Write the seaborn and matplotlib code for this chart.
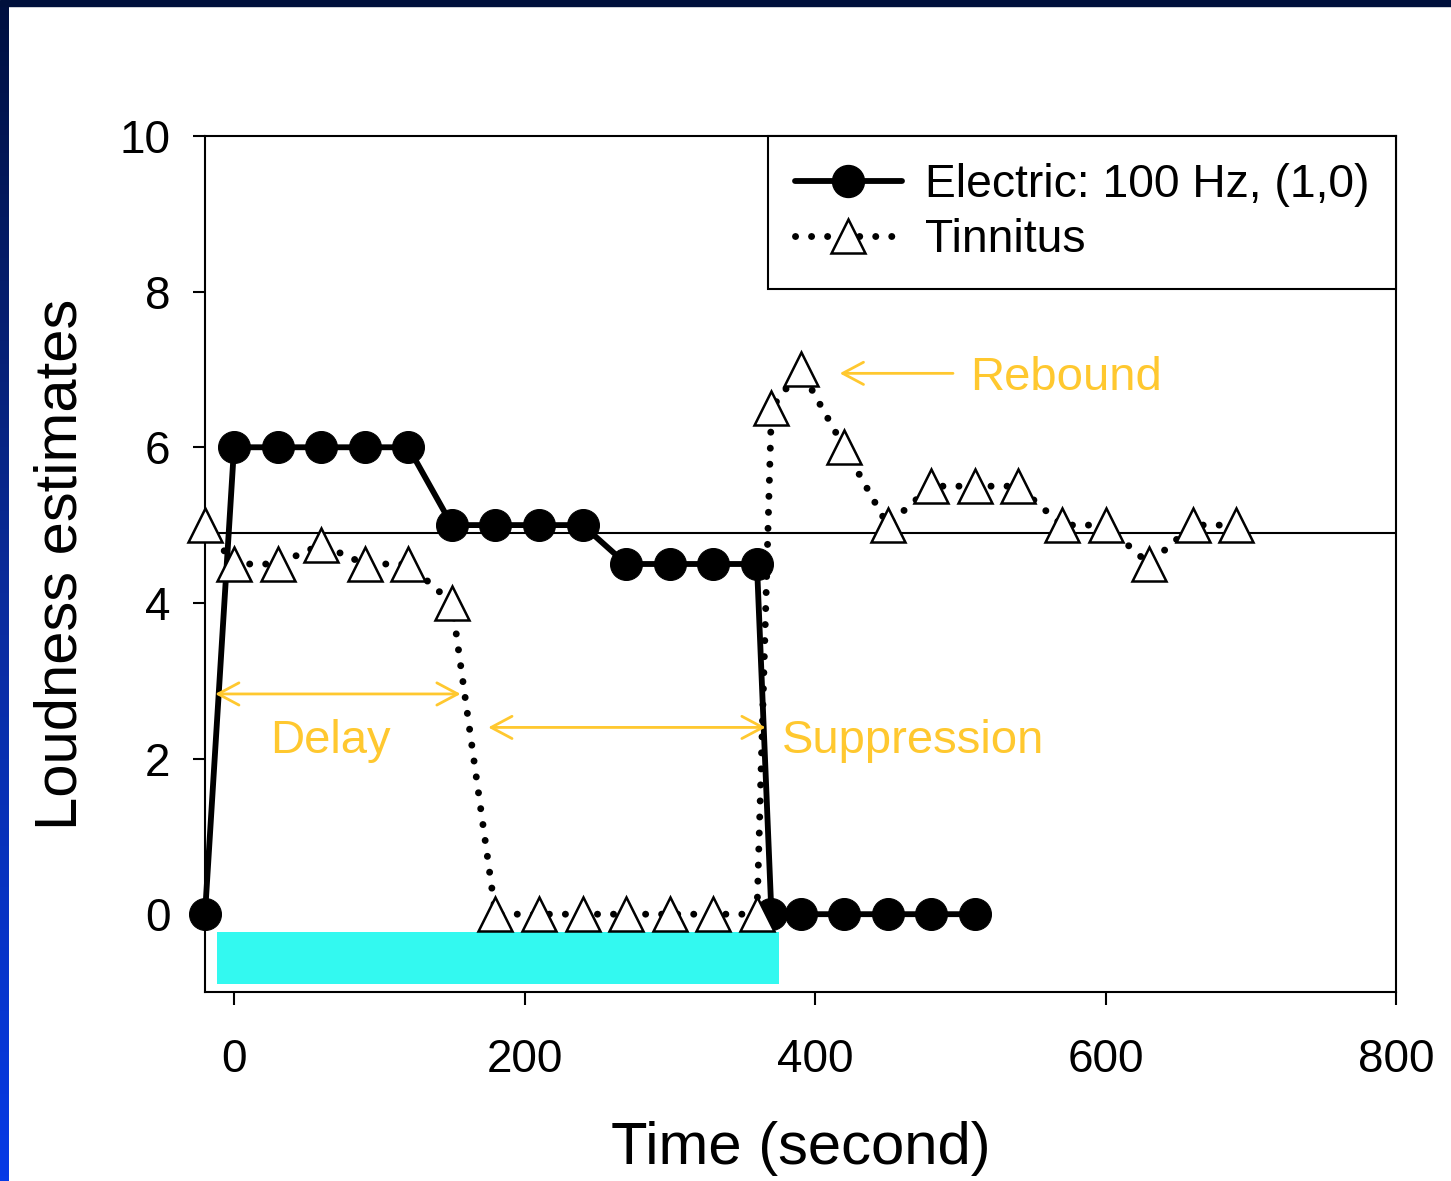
import numpy as np
import pandas as pd
import matplotlib
matplotlib.use("Agg")
import matplotlib.pyplot as plt
from matplotlib.patches import Rectangle
from matplotlib.lines import Line2D
import seaborn as sns

# === 1. Data ===
elec_time = [-20, 0, 30, 60, 90, 120, 150, 180, 210, 240, 270, 300, 330, 360, 370,
             390, 420, 450, 480, 510]
elec_loud = [0, 6, 6, 6, 6, 6, 5, 5, 5, 5, 4.5, 4.5, 4.5, 4.5, 0,
             0, 0, 0, 0, 0]

tinn_time = [-20, 0, 30, 60, 90, 120, 150, 180, 210, 240, 270, 300, 330, 360, 370,
             390, 420, 450, 480, 510, 540, 570, 600, 630, 660, 690]
tinn_loud = [5, 4.5, 4.5, 4.75, 4.5, 4.5, 4.0, 0, 0, 0, 0, 0, 0, 0, 6.5,
             7, 6, 5, 5.5, 5.5, 5.5, 5, 5, 4.5, 5, 5]

baseline_level = 4.9
stim_start, stim_end = -12, 375      # stimulation bar (seconds)
stim_low, stim_high = -0.9, -0.23

x_ticks = [0, 200, 400, 600, 800]
y_ticks = [0, 2, 4, 6, 8, 10]

labels = ["Electric: 100 Hz, (1,0)", "Tinnitus"]

GOLD = "#FFC82F"
CYAN = "#33F9F0"

elec = pd.DataFrame({"time": elec_time, "loud": elec_loud})
tinn = pd.DataFrame({"time": tinn_time, "loud": tinn_loud})

# === 2. Style ===
sns.set_style("ticks")
plt.rcParams["font.family"] = ["Liberation Sans", "DejaVu Sans"]
plt.rcParams["text.color"] = "black"
plt.rcParams["axes.labelcolor"] = "black"

fig = plt.figure(figsize=(14.51, 11.81), dpi=100)
ax = fig.add_axes([205 / 1451, 1 - 992 / 1181, (1396 - 205) / 1451, (992 - 136) / 1181])

# slide background strips (dark top band, blue gradient on the left)
fig.patches.append(Rectangle((0, 1 - 6 / 1181), 1, 6 / 1181, transform=fig.transFigure,
                             color="#00103C", zorder=0))
side = fig.add_axes([0, 0, 9 / 1451, 1 - 6 / 1181])
grad = np.linspace(0, 1, 256).reshape(-1, 1)
side.imshow(grad, aspect="auto", origin="upper",
            cmap=matplotlib.colors.LinearSegmentedColormap.from_list(
                "slide", ["#001040", "#0A2C9C", "#053AE6"]))
side.set_axis_off()

# === 3. Plot ===
ax.add_patch(Rectangle((stim_start, stim_low), stim_end - stim_start, stim_high - stim_low,
                       color=CYAN, lw=0, zorder=1))
ax.axhline(baseline_level, color="black", lw=1.5, zorder=1.5)

dots = (0, (0.01, 2.3))
sns.lineplot(data=elec, x="time", y="loud", ax=ax, estimator=None, sort=False,
             color="black", lw=4.2, marker="o", markersize=23,
             markeredgecolor="black", zorder=3, clip_on=False)
sns.lineplot(data=tinn, x="time", y="loud", ax=ax, estimator=None, sort=False,
             color="black", lw=5.0, linestyle=dots, dash_capstyle="round",
             marker="^", markersize=25, markerfacecolor="white",
             markeredgecolor="black", markeredgewidth=1.8, zorder=4, clip_on=False)

# annotations
arrow_kw = dict(arrowstyle="<->,head_length=0.75,head_width=0.4", color=GOLD, lw=2,
                shrinkA=0, shrinkB=0, mutation_scale=20)
ax.annotate("", xy=(-13, 2.83), xytext=(156, 2.83), arrowprops=arrow_kw)
ax.annotate("", xy=(175, 2.4), xytext=(366, 2.4), arrowprops=arrow_kw)
ax.annotate("", xy=(417, 6.95), xytext=(495, 6.95),
            arrowprops=dict(arrowstyle="->,head_length=0.75,head_width=0.4", color=GOLD,
                            lw=2, shrinkA=0, shrinkB=0, mutation_scale=20))
ax.text(25, 2.07, "Delay", color=GOLD, fontsize=34, va="baseline", ha="left")
ax.text(377, 2.07, "Suppression", color=GOLD, fontsize=34, va="baseline", ha="left")
ax.text(507, 6.73, "Rebound", color=GOLD, fontsize=34, va="baseline", ha="left")

# axes
ax.set_xlim(-20, 800)
ax.set_ylim(-1, 10)
ax.set_xticks(x_ticks)
ax.set_yticks(y_ticks)
for s in ax.spines.values():
    s.set_visible(True)
    s.set_linewidth(1.5)
    s.set_color("black")
ax.tick_params(axis="both", direction="out", length=9, width=1.5, colors="black",
               labelsize=33)
ax.tick_params(axis="x", pad=24)
ax.tick_params(axis="y", pad=16)
ax.set_xlabel("Time (second)", fontsize=43, labelpad=28)
ax.set_ylabel("Loudness estimates", fontsize=43, labelpad=22)

# legend
handles = [
    Line2D([], [], color="black", lw=4.2, marker="o", markersize=23),
    Line2D([], [], color="black", lw=5.0, linestyle=dots, dash_capstyle="round",
           marker="^", markersize=24, markerfacecolor="white", markeredgewidth=1.8),
]
leg = ax.legend(handles, labels, loc="upper right", fontsize=33.3, frameon=True,
                fancybox=False, borderaxespad=0, borderpad=0.58, handlelength=2.3,
                handletextpad=0.5, labelspacing=0.25)
leg.get_frame().set_edgecolor("black")
leg.get_frame().set_linewidth(1.5)
leg.get_frame().set_alpha(1)
leg.set_zorder(5)

plt.savefig("out.png", dpi=100)
